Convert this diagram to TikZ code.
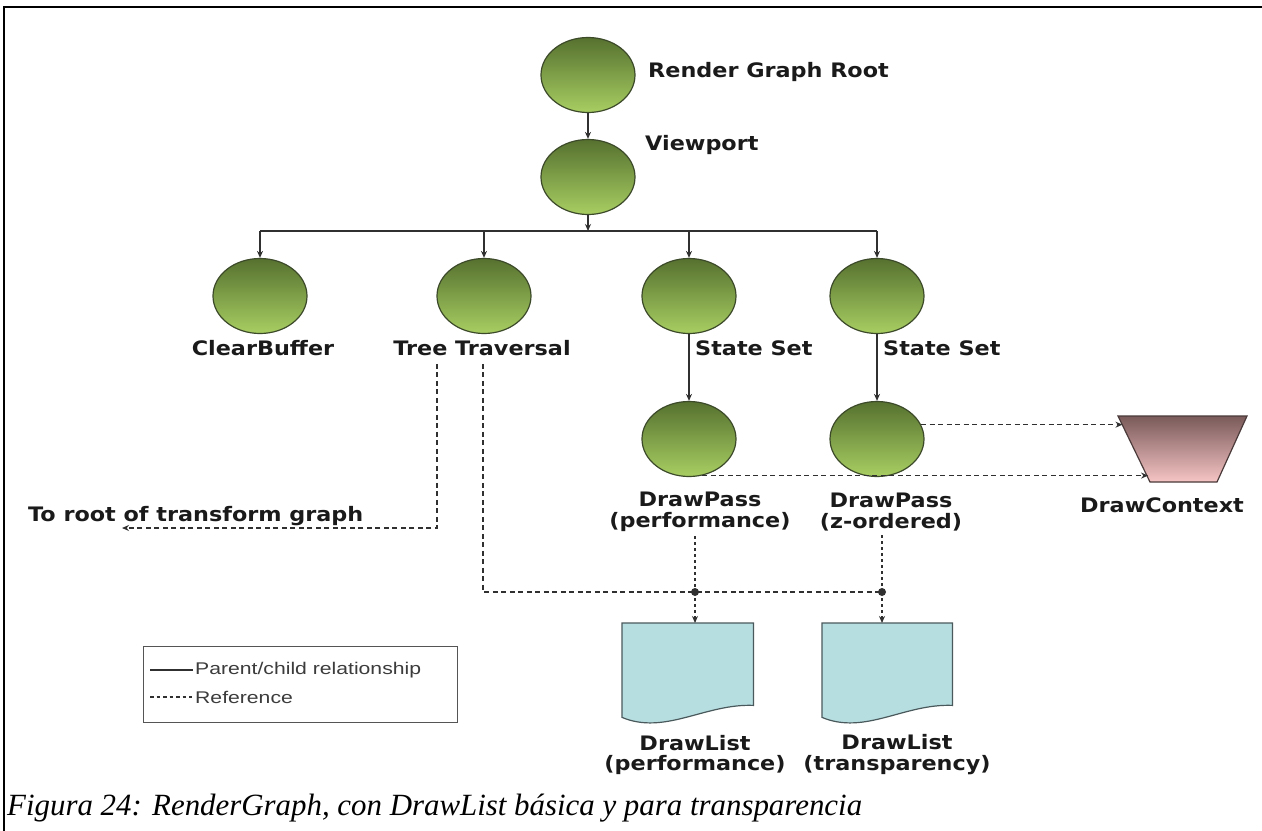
\documentclass[tikz,border=0pt]{standalone}
\usepackage{fontspec}
\setmainfont{Liberation Serif}
\newfontfamily\lblfont{DejaVu Sans}[FakeStretch=1.12]
\newfontfamily\legfont{Liberation Sans}[FakeStretch=1.25]
\usetikzlibrary{shapes.geometric,arrows.meta,calc}

\definecolor{gtop}{HTML}{56712F}
\definecolor{gbot}{HTML}{A8CE62}
\definecolor{nodeedge}{HTML}{3C4A2A}
\definecolor{ctop}{HTML}{7A5A5A}
\definecolor{cbot}{HTML}{F6C4C4}
\definecolor{ctxedge}{HTML}{4A3A3A}
\definecolor{docfill}{HTML}{B6DDE0}
\definecolor{docedge}{HTML}{4A5A5C}
\definecolor{wire}{HTML}{303030}
\definecolor{txt}{HTML}{1A1A1A}
\definecolor{legedge}{HTML}{555555}

\tikzset{
  gnode/.style={ellipse, minimum width=94bp, minimum height=75bp, inner sep=0pt,
    draw=nodeedge, line width=1.2bp, top color=gtop, bottom color=gbot},
  lbl/.style={font=\lblfont\bfseries\fontsize{20}{21}\selectfont, text=txt, inner sep=0pt},
  legtxt/.style={font=\legfont\fontsize{17}{18}\selectfont, text=txt!85, inner sep=0pt},
  wireline/.style={draw=wire, line width=1.4bp},
  pc/.style={wireline, -{Stealth[length=7bp,width=6bp]}},
  ref/.style={draw=wire, line width=1.3bp, dash pattern=on 5bp off 3.5bp},
  refv/.style={draw=wire, line width=1.3bp, dash pattern=on 3bp off 3bp},
  tip/.style={-{Stealth[length=7bp,width=6bp]}},
  docst/.style={draw=docedge, line width=1.2bp, fill=docfill},
  docbox/.style={minimum width=131bp, minimum height=82bp, inner sep=0pt, anchor=north west},
}

\begin{document}
\begin{tikzpicture}[x=1bp,y=-1bp]
\useasboundingbox (0,0) rectangle (1262,831);
\fill[white] (0,0) rectangle (1262,831);
% page frame
\draw[line width=2bp] (4,831) -- (4,7) -- (1262,7);

% root and viewport
\node[gnode] (root) at (588,75) {};
\node[lbl, anchor=west] (rootl) at (648,72) {Render Graph Root};
\node[gnode] (vp) at (588,177) {};
\node[lbl, anchor=west] (vpl) at (645,145) {Viewport};
\draw[pc] (root) -- (vp);

% first level children
\coordinate (bar) at (588,231);
\node[gnode] (cb) at (260,296) {};
\node[gnode] (tt) at (484,296) {};
\node[gnode] (ss1) at (689,296) {};
\node[gnode] (ss2) at (877,296) {};
\draw[pc] (vp) -- (bar);
\draw[wireline] (cb |- bar) -- (ss2 |- bar);
\foreach \n in {cb,tt,ss1,ss2} \draw[pc] (\n |- bar) -- (\n);

\node[lbl] (cbl) at (263,348) {ClearBuffer};
\node[lbl] (ttl) at (482,348) {Tree Traversal};
\node[lbl, anchor=west] (ssl1) at (695,348) {State Set};
\node[lbl, anchor=west] (ssl2) at (883,348) {State Set};

% draw passes
\node[gnode] (dp1) at (689,439) {};
\node[gnode] (dp2) at (877,439) {};
\draw[pc] (ss1) -- (dp1);
\draw[pc] (ss2) -- (dp2);
\node[lbl, align=center] (dpl1) at (700,512) {DrawPass\\(performance)};
\node[lbl, align=center] (dpl2) at (891,512) {DrawPass\\(z-ordered)};

% draw context
\coordinate (ctl) at (1118,416);
\coordinate (ctr) at (1247,416);
\coordinate (cbr) at (1217,482);
\coordinate (cbl) at (1150,482);
\draw[draw=ctxedge, line width=1.2bp, top color=ctop, bottom color=cbot]
  (ctl) -- (ctr) -- (cbr) -- (cbl) -- cycle;
\node[lbl] (ctxl) at (1162,505) {DrawContext};
\coordinate (ctxA) at ($(ctl)!0.14!(cbl)$);
\coordinate (ctxB) at ($(ctl)!0.94!(cbl)$);
\draw[ref, tip] (dp2.18) -- (dp2.18 -| ctxA);
\draw[ref, tip] (dp1.-70) -- (dp1.-70 -| ctxB);

% tree traversal references
\coordinate (tA) at (437,370);
\coordinate (tB) at (483,370);
\coordinate (toroot) at (122,528);
\node[lbl, anchor=west] (trl) at (28,516) {To root of transform graph};
\draw[ref, tip] ($(ttl.south -| tA)+(0,8)$) |- (toroot);

\coordinate (j1) at (695,592);
\coordinate (j2) at (882,592);
\draw[ref] ($(ttl.south -| tB)+(0,8)$) |- (j2);

% draw lists
\node[docbox] (doc1) at (622,623) {};
\node[docbox, minimum width=130bp] (doc2) at (822,623) {};
\foreach \d in {doc1,doc2}
  \draw[docst] (\d.north west) -- (\d.north east) -- (\d.south east)
    .. controls +(-48,-2) and +(43,18) .. ($(\d.south west)+(0,12)$) -- cycle;

\draw[refv] ($(dpl1.south -| j1)+(0,4)$) -- (j1);
\draw[refv, tip] (j1) -- (doc1.north -| j1);
\draw[refv] ($(dpl2.south -| j2)+(0,4)$) -- (j2);
\draw[refv, tip] (j2) -- (doc2.north -| j2);
\fill[wire] (j1) circle (4bp);
\fill[wire] (j2) circle (4bp);

\node[lbl, align=center] (dll1) at (695,755) {DrawList\\(performance)};
\node[lbl, align=center] (dll2) at (897,755) {DrawList\\(transparency)};

% legend
\node[draw=legedge, line width=1.2bp, minimum width=314bp, minimum height=76bp,
  anchor=north west, inner sep=0pt] (leg) at (143,646) {};
\coordinate (lsA) at (150,670);
\coordinate (lsB) at (193,670);
\coordinate (ldA) at (150,697);
\coordinate (ldB) at (192,697);
\draw[wireline, line width=1.2bp] (lsA) -- (lsB);
\node[legtxt, anchor=west] (legpc) at (195,670) {Parent/child relationship};
\draw[wire, line width=1.2bp, dash pattern=on 3.5bp off 3bp] (ldA) -- (ldB);
\node[legtxt, anchor=west] (legref) at (195,697) {Reference};

% caption
\node[anchor=west, inner sep=0pt, font=\itshape\fontsize{31}{31}\selectfont] (cap) at (7,808)
  {Figura 24: RenderGraph, con DrawList básica y para transparencia};
\end{tikzpicture}
\end{document}
